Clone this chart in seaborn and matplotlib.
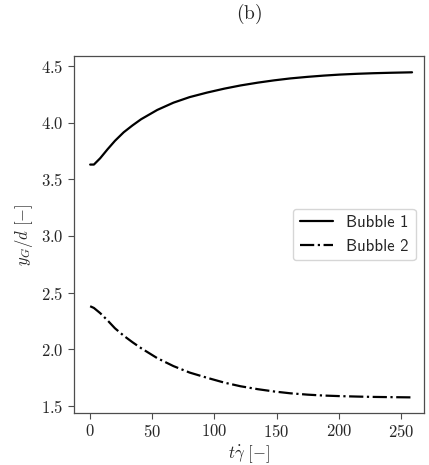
import matplotlib
matplotlib.use("Agg")
import matplotlib.pyplot as plt
import seaborn as sns
import pandas as pd

# Values
t_bubble1 = [0, 3, 8, 14, 20, 27, 34, 41, 54, 67, 80, 94, 108, 121, 135, 148, 161, 175, 188, 201, 215, 228, 242, 259]
y_bubble1 = [3.63, 3.63, 3.685, 3.765, 3.84, 3.915, 3.975, 4.03, 4.112, 4.176, 4.225, 4.265, 4.30, 4.328, 4.353, 4.373, 4.39, 4.404, 4.415, 4.424, 4.431, 4.436, 4.44, 4.444]

t_bubble2 = [0, 3, 8, 14, 20, 27, 34, 41, 54, 67, 80, 94, 108, 121, 135, 148, 161, 175, 188, 201, 215, 228, 242, 258]
y_bubble2 = [2.38, 2.365, 2.32, 2.255, 2.185, 2.12, 2.063, 2.01, 1.922, 1.852, 1.795, 1.749, 1.706, 1.674, 1.648, 1.628, 1.612, 1.600, 1.592, 1.587, 1.583, 1.580, 1.578, 1.576]

df1 = pd.DataFrame({"t": t_bubble1, "y": y_bubble1})
df2 = pd.DataFrame({"t": t_bubble2, "y": y_bubble2})

sns.set_style("ticks")
plt.rcParams["font.family"] = "serif"
plt.rcParams["font.serif"] = ["cmr10"]
plt.rcParams["mathtext.fontset"] = "cm"
plt.rcParams["axes.formatter.use_mathtext"] = True
plt.rcParams["axes.unicode_minus"] = True

fig, ax = plt.subplots(figsize=(4.29, 4.65), dpi=100)
fig.subplots_adjust(left=0.1725, right=0.988, top=0.8796, bottom=0.1118)

sns.lineplot(data=df1, x="t", y="y", ax=ax, color="black", lw=1.6, linestyle="-", label="Bubble 1")
sns.lineplot(data=df2, x="t", y="y", ax=ax, color="black", lw=1.6, linestyle="-.", label="Bubble 2")

ax.set_xlim(-13, 268.5)
ax.set_ylim(1.438, 4.588)
ax.set_xticks([0, 50, 100, 150, 200, 250])
ax.set_yticks([1.5, 2.0, 2.5, 3.0, 3.5, 4.0, 4.5])
ax.tick_params(labelsize=12, length=4, width=0.8, color="0.3")
for s in ax.spines.values():
    s.set_color("0.3")
    s.set_linewidth(0.9)

ax.set_xlabel(r"$t\dot{\gamma}\ [-]$", fontsize=12, labelpad=2)
ax.set_ylabel(r"$y_G/d\ [-]$", fontsize=12, labelpad=4)
ax.set_title(r"$\mathrm{(b)}$", fontsize=14, pad=27)

ax.legend(loc="center right", prop={"family": "cmss10", "size": 12}, frameon=True)

fig.savefig("out.png", dpi=100)
